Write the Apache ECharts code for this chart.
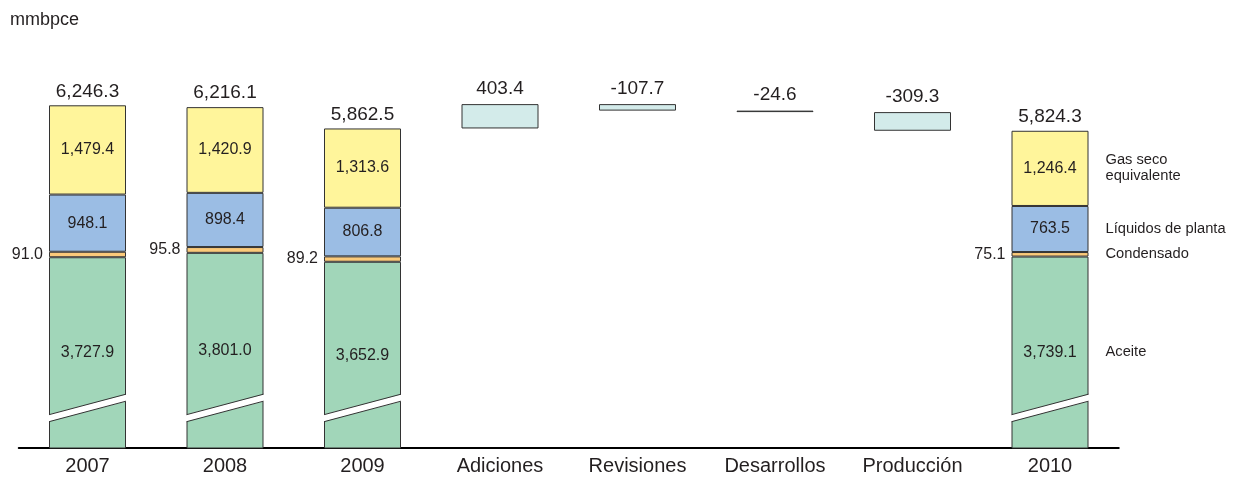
<!DOCTYPE html>
<html lang="es">
<head>
    <meta charset="UTF-8">
    <meta name="viewport" content="width=device-width, initial-scale=1.0">
    <title>Reservas totales (mmbpce)</title>
    <script src="https://cdn.jsdelivr.net/npm/echarts@6/dist/echarts.min.js"></script>
    <style>
        * {
            margin: 0;
            padding: 0;
            box-sizing: border-box;
        }
        body {
            background: #fff;
        }
        #chart {
            width: 1244px;
            height: 477px;
        }
    </style>
</head>
<body>
    <div id="chart"></div>

    <script>
        // categorías del eje x
        const categorias = ['2007', '2008', '2009', 'Adiciones', 'Revisiones', 'Desarrollos', 'Producción', '2010'];

        // componentes de las reservas (mmbpce)
        const aceite     = [3727.9, 3801.0, 3652.9, '-', '-', '-', '-', 3739.1];
        const condensado = [91.0,   95.8,   89.2,   '-', '-', '-', '-', 75.1];
        const liquidos   = [948.1,  898.4,  806.8,  '-', '-', '-', '-', 763.5];
        const gasSeco    = [1479.4, 1420.9, 1313.6, '-', '-', '-', '-', 1246.4];
        const totales    = [6246.3, 6216.1, 5862.5, null, null, null, null, 5824.3];

        // variaciones 2009 -> 2010
        const cambios = [null, null, null, 403.4, -107.7, -24.6, -309.3, null];

        // textos a la derecha de la barra 2010
        const nombres = ['Aceite', 'Condensado', 'Líquidos de planta', 'Gas seco\nequivalente'];

        // corte del eje (valor en el borde izquierdo / derecho de la barra)
        const corteIzq = 1060;
        const corteDer = 1400;

        const fuente = '"Liberation Sans", Arial, sans-serif';
        const colorTexto = '#231f20';
        const borde = '#333';
        const anchoBarra = 77;

        const fmt = v => v.toLocaleString('en-US', { minimumFractionDigits: 1, maximumFractionDigits: 1 });

        // base invisible y altura de la cascada
        const base = categorias.map(() => '-');
        const delta = categorias.map(() => '-');
        let acumulado = totales[2];
        cambios.forEach((c, i) => {
            if (c === null) return;
            if (c >= 0) {
                base[i] = acumulado;
                delta[i] = c;
                acumulado += c;
            } else {
                acumulado += c;
                base[i] = acumulado;
                delta[i] = -c;
            }
        });

        // anotaciones: totales arriba y nombres a la derecha de 2010
        const notas = [];
        totales.forEach((t, i) => {
            if (t !== null) notas.push({ cat: categorias[i], valor: t, texto: fmt(t), tipo: 'arriba' });
        });
        const u = categorias.length - 1;
        const piso = 566;
        let y0 = piso;
        [aceite[u], condensado[u], liquidos[u], gasSeco[u]].forEach((v, k) => {
            const inicio = k === 0 ? piso : y0;
            const fin = k === 0 ? v : y0 + v;
            notas.push({ cat: categorias[u], valor: (inicio + fin) / 2, texto: nombres[k], tipo: 'lado' });
            y0 = fin;
        });

        const chart = echarts.init(document.getElementById('chart'));

        function serieBarra(nombre, datos, color, etiqueta) {
            return {
                name: nombre,
                type: 'bar',
                stack: 'total',
                barWidth: anchoBarra,
                clip: true,
                silent: true,
                data: datos,
                itemStyle: { color: color, borderColor: borde, borderWidth: 1 },
                label: etiqueta,
                emphasis: { disabled: true }
            };
        }

        const etiquetaDentro = {
            show: true,
            position: 'inside',
            fontSize: 16,
            fontFamily: fuente,
            color: colorTexto,
            textBorderWidth: 0,
            formatter: p => fmt(p.value)
        };

        const option = {
            animation: false,
            title: {
                text: 'mmbpce',
                left: 5,
                top: 6,
                textStyle: { fontSize: 18, fontWeight: 'normal', fontFamily: fuente, color: colorTexto }
            },
            grid: {
                left: 18.75,
                right: 125.25,
                top: 90,
                bottom: 29
            },
            xAxis: {
                type: 'category',
                data: categorias,
                axisLine: { lineStyle: { color: '#000', width: 2 } },
                axisTick: { show: false },
                axisLabel: { fontSize: 20, fontFamily: fuente, color: colorTexto, margin: 8 }
            },
            yAxis: {
                type: 'value',
                min: piso,
                max: 6500,
                show: false,
                splitLine: { show: false }
            },
            series: [
                {
                    name: 'base',
                    type: 'bar',
                    stack: 'total',
                    barWidth: anchoBarra,
                    silent: true,
                    data: base,
                    itemStyle: { color: 'transparent', borderWidth: 0 },
                    emphasis: { disabled: true }
                },
                serieBarra('Variación', delta, '#d3ebea', {
                    show: true,
                    position: 'top',
                    distance: 6,
                    fontSize: 19,
                    fontFamily: fuente,
                    color: colorTexto,
                    formatter: p => fmt(cambios[p.dataIndex])
                }),
                serieBarra('Aceite', aceite, '#a1d6b9', etiquetaDentro),
                serieBarra('Condensado', condensado, '#fbca7a', {
                    show: true,
                    position: 'left',
                    distance: 6,
                    fontSize: 16,
                    fontFamily: fuente,
                    color: colorTexto,
                    formatter: p => fmt(p.value)
                }),
                serieBarra('Líquidos de planta', liquidos, '#9bbde4', etiquetaDentro),
                serieBarra('Gas seco equivalente', gasSeco, '#fff59b', etiquetaDentro),
                {
                    // corte diagonal de las barras
                    name: 'corte',
                    type: 'custom',
                    silent: true,
                    z: 5,
                    data: [[categorias[0], corteIzq], [categorias[1], corteIzq], [categorias[2], corteIzq], [categorias[u], corteIzq]],
                    renderItem: function (params, api) {
                        const i = api.value(0);
                        const pIzq = api.coord([i, corteIzq]);
                        const pDer = api.coord([i, corteDer]);
                        const xl = pIzq[0] - anchoBarra / 2;
                        const xr = pIzq[0] + anchoBarra / 2;
                        const yl = pIzq[1];
                        const yr = pDer[1];
                        const h = 3.5;
                        return {
                            type: 'group',
                            children: [
                                {
                                    type: 'polygon',
                                    shape: { points: [[xl - 1, yl - h], [xr + 1, yr - h], [xr + 1, yr + h], [xl - 1, yl + h]] },
                                    style: { fill: '#fff' }
                                },
                                { type: 'line', shape: { x1: xl, y1: yl - h, x2: xr, y2: yr - h }, style: { stroke: borde, lineWidth: 1 } },
                                { type: 'line', shape: { x1: xl, y1: yl + h, x2: xr, y2: yr + h }, style: { stroke: borde, lineWidth: 1 } }
                            ]
                        };
                    }
                },
                {
                    // totales y nombres de componentes
                    name: 'notas',
                    type: 'custom',
                    silent: true,
                    z: 6,
                    data: notas.map(n => [n.cat, n.valor]),
                    renderItem: function (params, api) {
                        const n = notas[params.dataIndex];
                        const p = api.coord([api.value(0), api.value(1)]);
                        if (n.tipo === 'arriba') {
                            return {
                                type: 'text',
                                x: p[0],
                                y: p[1] - 4.5,
                                style: {
                                    text: n.texto, fill: colorTexto, fontSize: 19, fontFamily: fuente,
                                    align: 'center', verticalAlign: 'bottom'
                                }
                            };
                        }
                        return {
                            type: 'text',
                            x: p[0] + anchoBarra / 2 + 17,
                            y: p[1],
                            style: {
                                text: n.texto, fill: colorTexto, fontSize: 14.7, fontFamily: fuente,
                                lineHeight: 16, align: 'left', verticalAlign: 'middle'
                            }
                        };
                    }
                }
            ]
        };

        chart.setOption(option);

        window.addEventListener('resize', function () {
            chart.resize();
        });
    </script>
</body>
</html>
